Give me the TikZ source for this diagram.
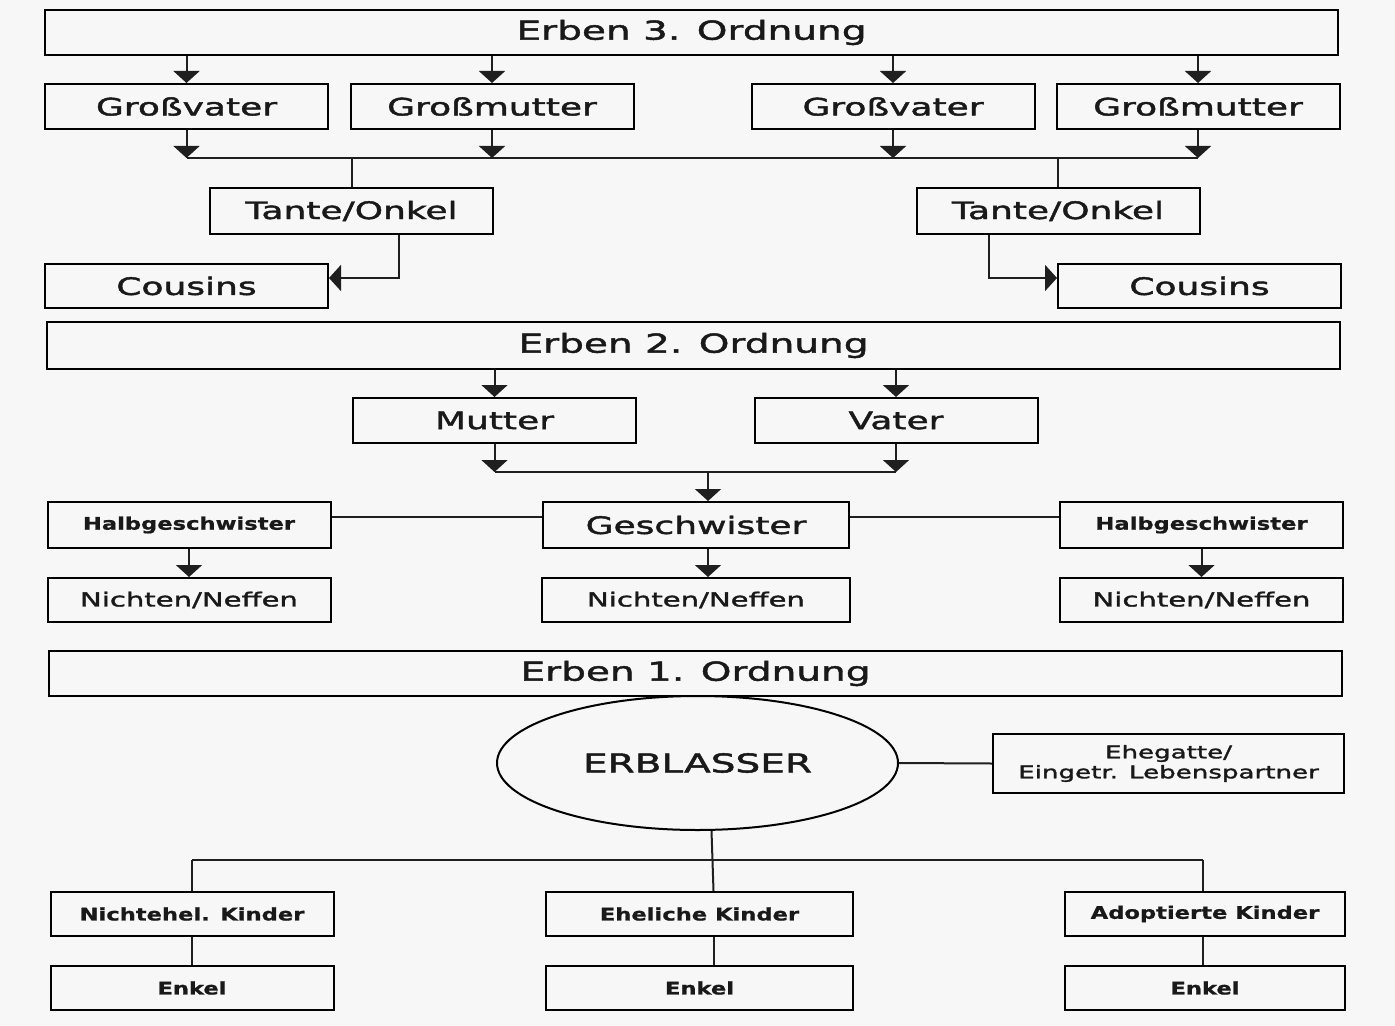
\documentclass[tikz,border=0pt]{standalone}
\usepackage{fontspec}
\setmainfont[FakeStretch=1.5,FakeBold=1.8]{DejaVu Sans}
\newfontfamily\heavyfont[FakeStretch=1.3,FakeBold=0.8]{DejaVu Sans Bold}
\usetikzlibrary{arrows.meta,shapes.geometric}

\tikzset{
box/.style={draw,line width=1pt,inner sep=0pt,text=black!90,
  minimum width=141.5pt,minimum height=22.5pt},
wide/.style={minimum width=646.5pt},
title/.style={box,wide,font=\fontsize{13}{15}\selectfont},
big/.style={box,font=\fontsize{12}{14}\selectfont},
mid/.style={box,font=\fontsize{9.7}{11}\selectfont},
small/.style={box,font=\heavyfont\fontsize{8.7}{10}\selectfont},
link/.style={line width=1pt,black!88},
arr/.style={link,-{Triangle[length=6pt,width=13pt]}}}

\begin{document}
\begin{tikzpicture}
  [x=0.5pt,y=-0.5pt]
  \fill[black!3] (0,0) rectangle (1395,1026);
  \useasboundingbox (0,0) rectangle (1395,1026);
  % 3. Ordnung
  \node[title] (e3) at (691.5,32.5) {Erben 3. Ordnung};
  \node[big] (gv1) at (186.5,106.5) {Großvater};
  \node[big] (gm1) at (492,106.5) {Großmutter};
  \node[big] (gv2) at (893,106.5) {Großvater};
  \node[big] (gm2) at (1198,106.5) {Großmutter};
  \node[big,minimum height=23pt] (to1) at (351.5,211) {Tante/Onkel};
  \node[big,minimum height=23pt] (to2) at (1058,211) {Tante/Onkel};
  \node[big,minimum height=22pt] (co1) at (186.5,286) {Cousins};
  \node[big,minimum height=22pt] (co2) at (1199.5,286) {Cousins};
  \coordinate (g3) at (0,158);
  \foreach \n in {gv1,gm1,gv2,gm2}{
    \draw[arr] (\n.north |- e3.south) -- (\n.north);
    \draw[arr] (\n.south) -- (\n.south |- g3);
  }
  \draw[link] (gv1.south |- g3) -- (gm2.south |- g3);
  \draw[link] (to1.north |- g3) -- (to1.north);
  \draw[link] (to2.north |- g3) -- (to2.north);
  \draw[arr] ([xshift=23.75pt]to1.south) |- ([yshift=4pt]co1.east);
  \draw[arr] ([xshift=-34.5pt]to2.south) |- ([yshift=4pt]co2.west);
  % 2. Ordnung
  \node[title,minimum height=23.5pt] (e2) at (693.5,345.5) {Erben 2. Ordnung};
  \node[big] (mu) at (494.5,420.5) {Mutter};
  \node[big] (va) at (896,420.5) {Vater};
  \node[big,minimum width=153pt,minimum height=23pt] (gs) at (696,525) {Geschwister};
  \node[small,minimum height=23pt] (hg1) at (189,525) {Halbgeschwister};
  \node[small,minimum height=23pt] (hg2) at (1201.5,525) {Halbgeschwister};
  \node[mid,minimum height=22pt] (nn1) at (189,600) {Nichten/Neffen};
  \node[mid,minimum width=154pt,minimum height=22pt] (nn2) at (696,600) {Nichten/Neffen};
  \node[mid,minimum height=22pt] (nn3) at (1201.5,600) {Nichten/Neffen};
  \coordinate (g2) at (0,472);
  \foreach \n in {mu,va}{
    \draw[arr] (\n.north |- e2.south) -- (\n.north);
    \draw[arr] (\n.south) -- (\n.south |- g2);
  }
  \draw[link] (mu.south |- g2) -- (va.south |- g2);
  \draw[arr] ([xshift=6pt]gs.north |- g2) -- ([xshift=6pt]gs.north);
  \draw[link] ([yshift=4pt]hg1.east) -- ([yshift=4pt]gs.west);
  \draw[link] ([yshift=4pt]gs.east) -- ([yshift=4pt]hg2.west);
  \draw[arr] (hg1.south) -- (nn1.north);
  \draw[arr] ([xshift=6pt]gs.south) -- ([xshift=6pt]nn2.north);
  \draw[arr] (hg2.south) -- (nn3.north);
  % 1. Ordnung
  \node[title] (e1) at (695.5,673.5) {Erben 1. Ordnung};
  \node[draw,ellipse,line width=1pt,inner sep=0pt,minimum width=200.5pt,
    minimum height=67pt,text=black!90,font=\fontsize{13}{15}\selectfont]
    (ell) at (697.5,763) {ERBLASSER};
  \node[box,minimum width=175.5pt,minimum height=29.5pt,align=center,
    font=\fontsize{8.7}{9.4}\selectfont] (eg) at (1168.5,763.5)
    {Ehegatte/\\[0.6pt]Eingetr. Lebenspartner};
  \node[small,minimum height=22pt] (nk) at (192,914) {Nichtehel. Kinder};
  \node[small,minimum width=153.5pt,minimum height=22pt] (ek) at (699.5,914) {Eheliche Kinder};
  \node[small,minimum width=140pt,minimum height=22pt] (ak) at (1205,914) {Adoptierte Kinder};
  \node[small,minimum height=22pt] (en1) at (192,988) {Enkel};
  \node[small,minimum width=153.5pt,minimum height=22pt] (en2) at (699.5,988) {Enkel};
  \node[small,minimum width=140pt,minimum height=22pt] (en3) at (1205,988) {Enkel};
  \coordinate (g1) at (0,860);
  \draw[link] (ell.east) -- (eg.west);
  \draw[link] ([xshift=7pt]ell.south) -- ([xshift=7pt]ek.north);
  \draw[link] (nk.north |- g1) -- ([xshift=-1pt]ak.north |- g1);
  \draw[link] (nk.north |- g1) -- (nk.north);
  \draw[link] ([xshift=-1pt]ak.north |- g1) -- ([xshift=-1pt]ak.north);
  \draw[link] (nk.south) -- (en1.north);
  \draw[link] ([xshift=7pt]ek.south) -- ([xshift=7pt]en2.north);
  \draw[link] ([xshift=-1pt]ak.south) -- ([xshift=-1pt]en3.north);
\end{tikzpicture}
\end{document}
